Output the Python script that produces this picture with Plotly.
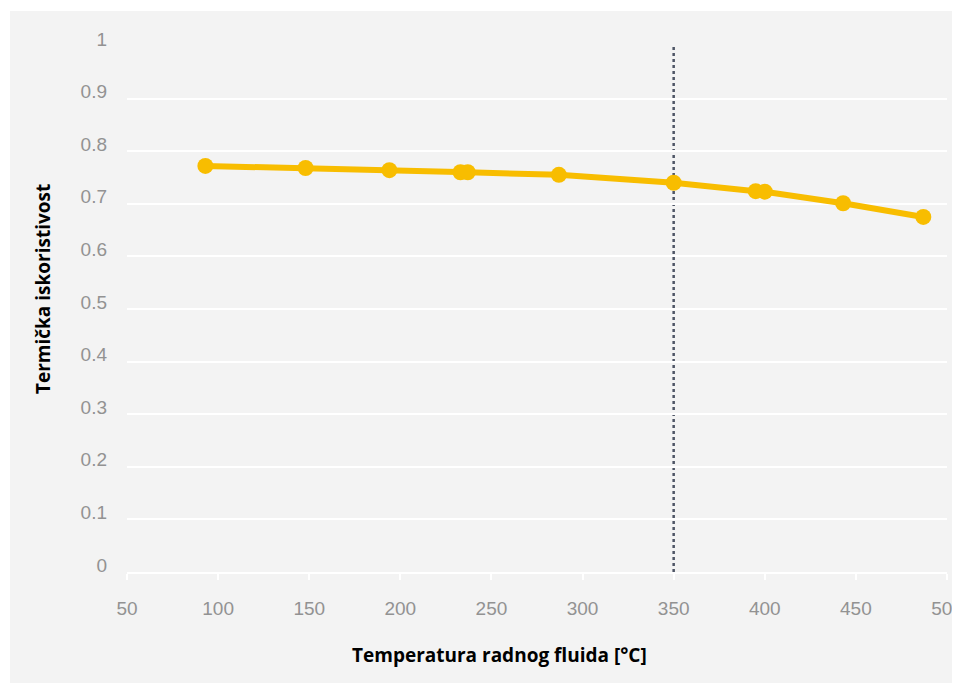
import plotly.graph_objects as go

temps = [93, 148, 194, 233, 237, 287, 350, 395, 400, 443, 487]
efficiency = [0.772, 0.768, 0.764, 0.760, 0.760, 0.755, 0.740, 0.724, 0.723, 0.701, 0.675]
x_ticks = [50, 100, 150, 200, 250, 300, 350, 400, 450, 500]
y_ticks = [0, 0.1, 0.2, 0.3, 0.4, 0.5, 0.6, 0.7, 0.8, 0.9, 1]
y_tick_text = ["0", "0.1", "0.2", "0.3", "0.4", "0.5", "0.6", "0.7", "0.8", "0.9", "1"]
ref_temp = 350
x_title = "Temperatura radnog fluida [°C]"
y_title = "Termička iskoristivost"

LINE_COLOR = "#F8BD00"
BG = "#F3F3F3"
TICK_COLOR = "#929292"

fig = go.Figure()
fig.add_trace(go.Scatter(
    x=temps, y=efficiency, mode="lines+markers",
    line=dict(color=LINE_COLOR, width=6),
    marker=dict(color=LINE_COLOR, size=16),
    showlegend=False, hoverinfo="x+y",
))

# grey panel background
fig.add_shape(type="rect", xref="paper", yref="paper",
              x0=-0.1427, x1=1.02, y0=-0.215, y1=1.0665,
              fillcolor=BG, line=dict(width=0), layer="below")
# dotted reference line
fig.add_shape(type="line", xref="x", yref="y", x0=ref_temp, x1=ref_temp, y0=0, y1=1,
              line=dict(color="#4E5565", width=2.5, dash="3px,3px"), layer="below")

fig.add_annotation(text=x_title, xref="paper", yref="paper", x=0.4537, y=-0.158,
                   xanchor="center", yanchor="middle", showarrow=False,
                   font=dict(family="Open Sans", size=19, color="#000000", weight="bold"))
fig.add_annotation(text=y_title, xref="paper", yref="paper", x=-0.1024, y=0.538,
                   xanchor="center", yanchor="middle", showarrow=False, textangle=-90,
                   font=dict(family="Open Sans", size=19, color="#000000", weight="bold"))

fig.update_layout(
    width=952, height=675,
    margin=dict(l=119, r=13, t=38, b=111, autoexpand=False),
    paper_bgcolor="white",
    plot_bgcolor="rgba(0,0,0,0)",
    font=dict(family="Liberation Sans", size=19, color=TICK_COLOR),
    xaxis=dict(range=[50, 500], tickvals=x_ticks, showgrid=False, zeroline=False,
               showline=True, linecolor="white", linewidth=2, automargin=False,
               ticks="outside", ticklen=6, tickwidth=2, tickcolor="white",
               ticklabelstandoff=12, ticklabeloverflow="allow",
               tickfont=dict(family="Liberation Sans", color=TICK_COLOR, size=19)),
    yaxis=dict(range=[0, 1], tickvals=y_ticks, ticktext=y_tick_text, showgrid=True,
               gridcolor="white", gridwidth=2, zeroline=False, showline=False,
               automargin=False,
               ticks="", ticklabelstandoff=19, ticklabelshift=-7,
               ticklabeloverflow="allow",
               tickfont=dict(family="Liberation Sans", color=TICK_COLOR, size=19)),
)

fig.write_html("out.html")
